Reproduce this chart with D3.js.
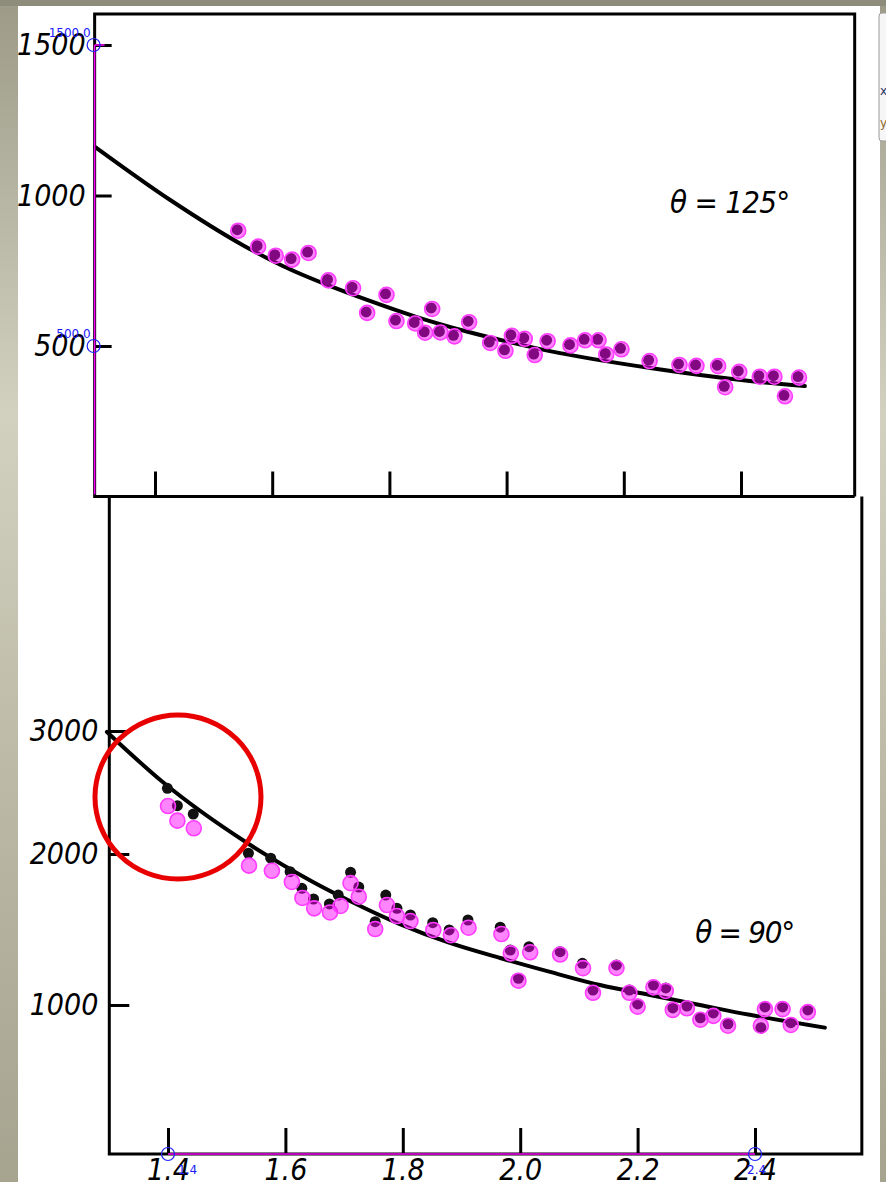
<!DOCTYPE html>
<html><head><meta charset="utf-8">
<script src="https://cdn.jsdelivr.net/npm/d3@7"></script>
<style>html,body{margin:0;padding:0;background:#b3b2a2;} svg{display:block}</style>
</head><body>
<svg id="chart" width="886" height="1182"></svg>
<script>
// ---------- data ----------
const xTicks = [1.4, 1.6, 1.8, 2.0, 2.2, 2.4];
const xTickLabels = ["1.4", "1.6", "1.8", "2.0", "2.2", "2.4"];
const topYTicks = [500, 1000, 1500];
const topYLabels = ["500", "1000", "1500"];
const botYTicks = [1000, 2000, 3000];
const botYLabels = ["1000", "2000", "3000"];

const topX = [1.542,1.576,1.606,1.634,1.662,1.696,1.738,1.795,1.762,1.812,1.844,1.873,1.861,1.887,1.911,1.936,1.972,1.998,2.009,2.031,2.048,2.070,2.109,2.134,2.157,2.170,2.196,2.244,2.295,2.324,2.361,2.373,2.397,2.432,2.457,2.475,2.499];
const topY = [883,830,800,787,809,718,692,670,610,583,575,623,544,545,532,579,510,484,534,524,470,516,502,519,519,472,489,450,437,434,433,363,414,398,398,333,395];
// θ = 125° fitted curve
const topCurveX = [1.298,1.426,1.550,1.618,1.694,1.762,1.847,1.932,2.018,2.074,2.245,2.415,2.509];
const topCurveY = [1161,985,835,766,703,653,596,548,507,483,427,384,367];

const botX = [1.400,1.416,1.444,1.538,1.577,1.611,1.629,1.649,1.676,1.694,1.711,1.725,1.753,1.773,1.790,1.813,1.852,1.882,1.912,1.968,1.984,1.997,2.017,2.068,2.107,2.124,2.164,2.186,2.200,2.227,2.248,2.260,2.284,2.307,2.329,2.354,2.410,2.417,2.447,2.461,2.490];
const botY = [2390,2271,2209,1923,1889,1815,1709,1640,1613,1656,1807,1717,1503,1662,1589,1556,1497,1462,1512,1470,1342,1161,1349,1334,1244,1081,1245,1081,989,1117,1093,967,978,901,927,861,861,972,972,866,952];
// θ = 90° panel: original printed points (black)
const origX = [1.399,1.416,1.443,1.537,1.575,1.608,1.628,1.648,1.675,1.690,1.711,1.725,1.753,1.771,1.790,1.813,1.851,1.879,1.911,1.966,1.983,1.997,2.015,2.068,2.106,2.124,2.164,2.186,2.200,2.227,2.248,2.260,2.284,2.307,2.329,2.354,2.410,2.417,2.447,2.461,2.490];
const origY = [2534,2393,2325,2006,1972,1883,1773,1702,1669,1728,1879,1781,1552,1728,1640,1596,1545,1497,1563,1515,1364,1177,1386,1353,1276,1099,1265,1099,1007,1132,1113,980,993,914,947,874,848,987,987,881,967];
// θ = 90° fitted curve
const botCurveX = [1.296,1.391,1.535,1.647,1.710,1.795,1.880,1.966,2.051,2.136,2.221,2.306,2.391,2.519];
const botCurveY = [2992,2585,2089,1815,1689,1536,1411,1311,1219,1132,1066,1000,934,848];

// calibration markers of the digitizer
const calibTopY = [1500, 500];
const calibTopLabels = ["1500.0", "500.0"];
const calibBotX = [1.4, 2.4];
const calibBotLabels = ["1.4", "2.4"];

// ---------- scales ----------
const xTop = d3.scaleLinear().domain([1.4, 2.4]).range([155, 741]);
const yTop = d3.scaleLinear().domain([500, 1500]).range([346, 45]);
const xBot = d3.scaleLinear().domain([1.4, 2.4]).range([168, 755]);
const yBot = d3.scaleLinear().domain([0, 1000, 2000, 3000]).range([1154, 1005, 854, 731]);

const topDomX = [1.297, 2.594], topDomY = [0, 1603];
const botDomX = [1.300, 2.582];

const svg = d3.select("#chart");
const FONT = "'Liberation Sans Narrow','DejaVu Sans Condensed',sans-serif";

// ---------- page background ----------
const defs = svg.append("defs");
const g1 = defs.append("linearGradient").attr("id","edge").attr("x1",0).attr("y1",0).attr("x2",0).attr("y2",1);
g1.append("stop").attr("offset","0").attr("stop-color","#9d9b88");
g1.append("stop").attr("offset","0.35").attr("stop-color","#d2d0bf");
g1.append("stop").attr("offset","0.7").attr("stop-color","#b9b7a3");
g1.append("stop").attr("offset","1").attr("stop-color","#a6a48f");
svg.append("rect").attr("x",0).attr("y",0).attr("width",886).attr("height",1182).attr("fill","url(#edge)");
svg.append("rect").attr("x",0).attr("y",0).attr("width",886).attr("height",6).attr("fill","#8e8c7b");
svg.append("rect").attr("x",18).attr("y",6).attr("width",862).attr("height",1176).attr("fill","#ffffff");
// digitizer side panel
svg.append("rect").attr("x",879).attr("y",13).attr("width",12).attr("height",128).attr("rx",3)
  .attr("fill","#f6f6f6").attr("stroke","#9a9a9a");
svg.append("text").attr("x",880).attr("y",95).text("x").attr("font-family","DejaVu Sans").attr("font-size",12).attr("fill","#2c3566");
svg.append("text").attr("x",880).attr("y",127).text("y").attr("font-family","DejaVu Sans").attr("font-size",12).attr("fill","#8d6a2a");

// ---------- frames ----------
const frameTop = {x0: xTop(topDomX[0]), x1: xTop(topDomX[1]), y0: yTop(topDomY[1]), y1: yTop(topDomY[0])};
const frameBot = {x0: xBot(botDomX[0]), x1: xBot(botDomX[1]), y0: frameTop.y1, y1: yBot(0)};
svg.append("path")
  .attr("d", `M${frameTop.x1},${frameTop.y1} L${frameTop.x1},${frameTop.y0} L${frameTop.x0},${frameTop.y0} L${frameTop.x0},${frameTop.y1} L${frameTop.x1},${frameTop.y1}`)
  .attr("fill","none").attr("stroke","#000").attr("stroke-width",3);
svg.append("path")
  .attr("d", `M${frameBot.x0},${frameBot.y0} L${frameBot.x0},${frameBot.y1} L${frameBot.x1},${frameBot.y1} L${frameBot.x1},${frameBot.y0}`)
  .attr("fill","none").attr("stroke","#000").attr("stroke-width",3);
svg.append("line").attr("x1",frameTop.x0).attr("x2",frameBot.x0).attr("y1",frameTop.y1).attr("y2",frameTop.y1)
  .attr("stroke","#000").attr("stroke-width",3);

// ---------- axes ----------
function styleAxis(g){
  g.select(".domain").remove();
  g.selectAll(".tick line").attr("stroke","#000").attr("stroke-width",3);
  g.selectAll(".tick text").attr("font-family",FONT).attr("font-style","italic").attr("font-size",30).attr("fill","#000");
}
// top panel y
svg.append("g").attr("transform",`translate(${frameTop.x0},0)`)
  .call(d3.axisLeft(yTop).tickValues(topYTicks).tickFormat((d,i)=>topYLabels[i]).tickSizeInner(-17).tickSizeOuter(0).tickPadding(9))
  .call(styleAxis);
// top panel x (ticks only)
svg.append("g").attr("transform",`translate(0,${frameTop.y1})`)
  .call(d3.axisBottom(xTop).tickValues(xTicks).tickFormat("").tickSizeInner(-25).tickSizeOuter(0))
  .call(styleAxis);
// bottom panel y
svg.append("g").attr("transform",`translate(${frameBot.x0},0)`)
  .call(d3.axisLeft(yBot).tickValues(botYTicks).tickFormat((d,i)=>botYLabels[i]).tickSizeInner(-20).tickSizeOuter(0).tickPadding(11))
  .call(styleAxis);
// bottom panel x
svg.append("g").attr("transform",`translate(0,${frameBot.y1})`)
  .call(d3.axisBottom(xBot).tickValues(xTicks).tickFormat((d,i)=>xTickLabels[i]).tickSizeInner(-26).tickSizeOuter(0).tickPadding(5))
  .call(styleAxis);

// ---------- curves ----------
const lineTop = d3.line().x(d=>xTop(d[0])).y(d=>yTop(d[1])).curve(d3.curveMonotoneX);
const lineBot = d3.line().x(d=>xBot(d[0])).y(d=>yBot(d[1])).curve(d3.curveMonotoneX);
svg.append("path").datum(topCurveX.map((x,i)=>[x, topCurveY[i]])).attr("d", lineTop)
  .attr("fill","none").attr("stroke","#000").attr("stroke-width",4).attr("stroke-linecap","round");
svg.append("path").datum(botCurveX.map((x,i)=>[x, botCurveY[i]])).attr("d", lineBot)
  .attr("fill","none").attr("stroke","#000").attr("stroke-width",4).attr("stroke-linecap","round");

// ---------- digitizer axis lines ----------
svg.append("line").attr("x1",frameTop.x0).attr("x2",frameTop.x0).attr("y1",yTop(1500)).attr("y2",frameTop.y1-2)
  .attr("stroke","#ff00ff").attr("stroke-width",1.5);
svg.append("line").attr("x1",frameTop.x0).attr("x2",frameTop.x0+10).attr("y1",yTop(1500)).attr("y2",yTop(1500))
  .attr("stroke","#ff00ff").attr("stroke-width",1.5);
svg.append("line").attr("x1",xBot(1.4)).attr("x2",xBot(2.4)).attr("y1",frameBot.y1).attr("y2",frameBot.y1)
  .attr("stroke","#ff00ff").attr("stroke-width",1.5);

// ---------- points ----------
const topPts = topX.map((x,i)=>[x, topY[i]]);
const botPts = botX.map((x,i)=>[x, botY[i]]);
const origPts = origX.map((x,i)=>[x, origY[i]]);

svg.append("g").selectAll("circle").data(topPts).join("circle")
  .attr("cx",d=>xTop(d[0])-1).attr("cy",d=>yTop(d[1])-1).attr("r",5.5).attr("fill","#111");
svg.append("g").selectAll("circle").data(origPts).join("circle")
  .attr("cx",d=>xBot(d[0])).attr("cy",d=>yBot(d[1])).attr("r",5.5).attr("fill","#111");

function magenta(sel){
  sel.attr("r",7.5).attr("fill","rgba(255,0,255,0.48)").attr("stroke","#ff3cff").attr("stroke-width",1.6);
}
svg.append("g").selectAll("circle").data(topPts).join("circle")
  .attr("cx",d=>xTop(d[0])).attr("cy",d=>yTop(d[1])).call(magenta);
svg.append("g").selectAll("circle").data(botPts).join("circle")
  .attr("cx",d=>xBot(d[0])).attr("cy",d=>yBot(d[1])).call(magenta);

// ---------- panel labels ----------
svg.append("text").attr("x",xTop(2.279)).attr("y",yTop(942)).text("θ = 125°")
  .attr("font-family",FONT).attr("font-style","italic").attr("font-size",31)
  .attr("textLength",120).attr("lengthAdjust","spacing");
svg.append("text").attr("x",xBot(2.298)).attr("y",yBot(1411)).text("θ = 90°")
  .attr("font-family",FONT).attr("font-style","italic").attr("font-size",31)
  .attr("textLength",100).attr("lengthAdjust","spacing");

// ---------- calibration markers ----------
calibTopY.forEach((v,i)=>{
  svg.append("circle").attr("cx",frameTop.x0-1).attr("cy",yTop(v)).attr("r",6.5)
    .attr("fill","none").attr("stroke","#2020ff").attr("stroke-width",1.2);
  svg.append("text").attr("x",frameTop.x0-4).attr("y",yTop(v)-8).text(calibTopLabels[i])
    .attr("text-anchor","end").attr("font-family","DejaVu Sans").attr("font-size",12).attr("fill","#2020ff");
});
calibBotX.forEach((v,i)=>{
  svg.append("circle").attr("cx",xBot(v)).attr("cy",frameBot.y1).attr("r",6.5)
    .attr("fill","none").attr("stroke","#2020ff").attr("stroke-width",1.2);
  svg.append("text").attr("x",xBot(v)+(i===0?10:-8)).attr("y",frameBot.y1+20).text(calibBotLabels[i])
    .attr("font-family","DejaVu Sans").attr("font-size",12).attr("fill","#2020ff");
});

// ---------- annotation ring ----------
svg.append("ellipse").attr("cx",xBot(1.417)).attr("cy",yBot(2463)).attr("rx",83).attr("ry",82)
  .attr("fill","none").attr("stroke","#e80000").attr("stroke-width",5);
</script>
</body></html>
